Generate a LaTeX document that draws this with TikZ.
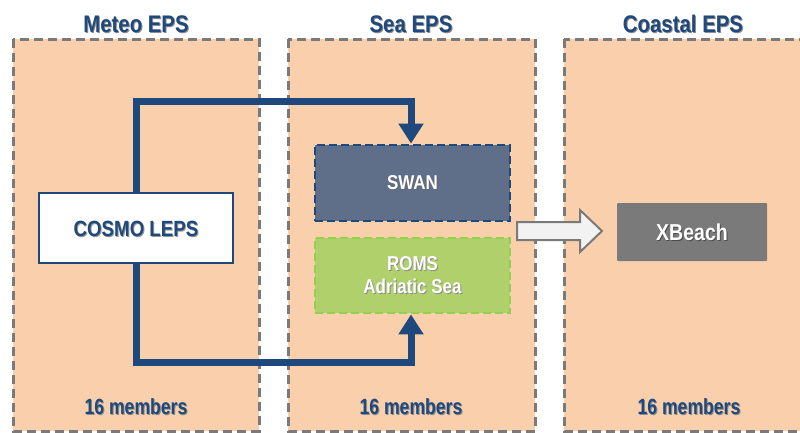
\documentclass[tikz,border=0pt]{standalone}
\usepackage{fontspec}
\setmainfont{Liberation Sans}
\newfontfamily\narrowfont[FakeStretch=0.85]{Liberation Sans}
\newfontfamily\narrowerfont[FakeStretch=0.8]{Liberation Sans}
\usetikzlibrary{arrows.meta}
\definecolor{peach}{HTML}{FAD0AC}
\definecolor{panelgray}{HTML}{7A7A7A}
\definecolor{navy}{HTML}{1F497D}
\definecolor{slate}{HTML}{5F6F8A}
\definecolor{lime}{HTML}{B0D06C}
\definecolor{limeb}{HTML}{92D050}
\definecolor{xgray}{HTML}{7A7A7A}
\definecolor{arrowfill}{HTML}{F2F2F2}
\tikzset{
  panel/.style={draw=panelgray, fill=peach, line width=3pt, dash pattern=on 9pt off 5pt},
  header/.style={font=\narrowfont\bfseries\fontsize{24}{26}\selectfont, text=navy, inner sep=0pt},
  members/.style={font=\narrowerfont\bfseries\fontsize{22}{24}\selectfont, text=navy, inner sep=0pt},
  boxtext/.style={font=\narrowfont\bfseries\fontsize{20}{24}\selectfont, text=white, align=center, inner sep=0pt},
  flow/.style={draw=navy, line width=7pt, -{Triangle[width=24pt,length=20pt]}},
}
\begin{document}
\begin{tikzpicture}[x=1pt,y=-1pt]
\useasboundingbox (0,0) rectangle (800,432);
\fill[white] (0,0) rectangle (800,432);
% panels
\draw[panel] (13,39) rectangle (259,431);
\draw[panel] (288,39) rectangle (535,431);
\draw[panel] (564,39) rectangle (812,431);
% headers (shadow + text)
\node[header, text=black!45] at (137,25) {Meteo EPS};
\node[header] (h1) at (136,24) {Meteo EPS};
\node[header, text=black!45] at (412,25) {Sea EPS};
\node[header] (h2) at (411,24) {Sea EPS};
\node[header, text=black!45] at (684,25) {Coastal EPS};
\node[header] (h3) at (683,24) {Coastal EPS};
% members
\node[members, text=black!45] at (137,408) {16 members};
\node[members] (m1) at (136,407) {16 members};
\node[members, text=black!45] at (412,408) {16 members};
\node[members] (m2) at (411,407) {16 members};
\node[members, text=black!45] at (690,408) {16 members};
\node[members] (m3) at (689,407) {16 members};
% boxes
\node[draw=navy, fill=white, line width=2.5pt, minimum width=194pt, minimum height=70pt, inner sep=0pt] (cosmo) at (136,228) {};
\node[font=\narrowfont\bfseries\fontsize{22}{24}\selectfont, text=black!40, inner sep=0pt] at (137,230) {COSMO LEPS};
\node[font=\narrowfont\bfseries\fontsize{22}{24}\selectfont, text=navy, inner sep=0pt] at (136,229) {COSMO LEPS};
\node[draw=navy, fill=slate, line width=2.8pt, dash pattern=on 8pt off 4pt, minimum width=195pt, minimum height=76pt, inner sep=0pt] (swan) at (412.5,183) {};
\node[boxtext, text=black!60] at (413.5,184) {SWAN};
\node[boxtext] at (412.5,183) {SWAN};
\node[draw=limeb, fill=lime, line width=2.8pt, dash pattern=on 8pt off 4pt, minimum width=195pt, minimum height=75pt, inner sep=0pt] (roms) at (412.5,275.5) {};
\node[boxtext, text=black!45] at (413.5,276.5) {ROMS\\[-1pt]Adriatic Sea};
\node[boxtext] at (412.5,275.5) {ROMS\\[-1pt]Adriatic Sea};
\node[fill=xgray, rounded corners=1pt, minimum width=150pt, minimum height=58pt, inner sep=0pt] (xbeach) at (692,232) {};
\node[font=\narrowfont\bfseries\fontsize{23}{24}\selectfont, text=black!70, inner sep=0pt] at (693,233) {XBeach};
\node[font=\narrowfont\bfseries\fontsize{23}{24}\selectfont, text=white, inner sep=0pt] at (692,232) {XBeach};
% flow lines
\coordinate (top) at (0,101);
\coordinate (bot) at (0,362);
\draw[flow] (cosmo.north) |- ([xshift=-1.5pt]swan.north |- top) -- ([xshift=-1.5pt]swan.north);
\draw[flow] (cosmo.south) |- ([xshift=-1.5pt]roms.south |- bot) -- ([xshift=-1.5pt]roms.south);
% block arrow
\draw[draw=panelgray, fill=arrowfill, line width=2pt, line join=miter]
  (517,222) -- (580,222) -- (580,210) -- (602,231) -- (580,252) -- (580,240) -- (517,240) -- cycle;
\end{tikzpicture}
\end{document}
